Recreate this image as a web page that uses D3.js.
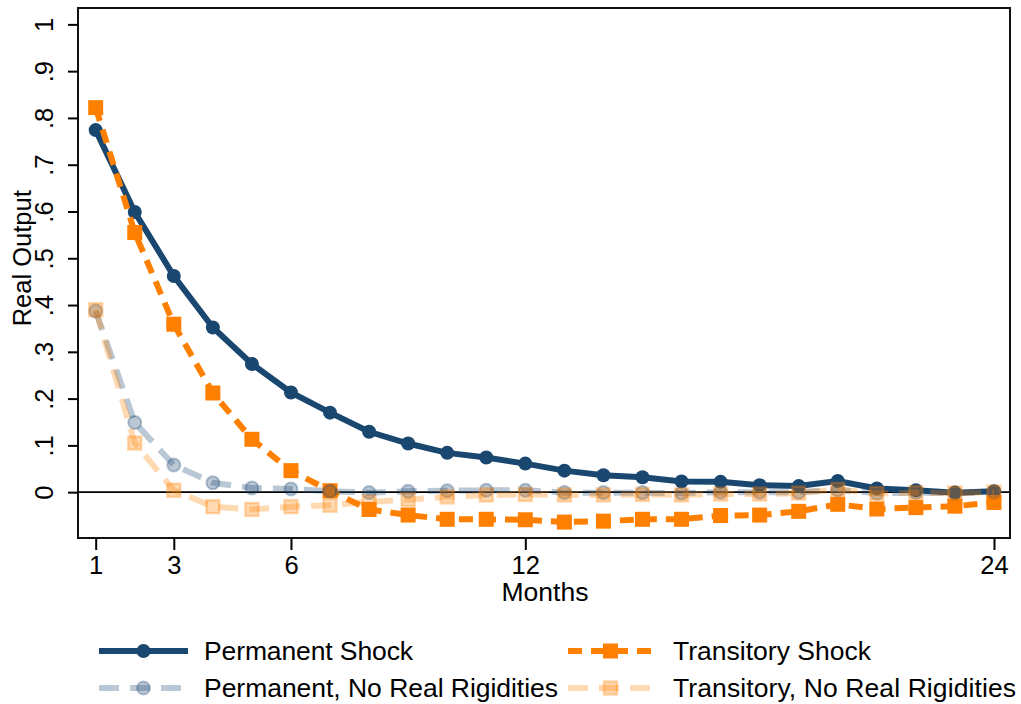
<!DOCTYPE html>
<html>
<head>
<meta charset="utf-8">
<script src="https://cdn.jsdelivr.net/npm/d3@7"></script>
<style>
  body { margin: 0; background: #fff; }
  svg { display: block; font-family: "Liberation Sans", Arial, sans-serif; }
</style>
</head>
<body>
<div id="container"></div>
<script>
// data
var months = [1, 2, 3, 4, 5, 6, 7, 8, 9, 10, 11, 12, 13, 14, 15, 16, 17, 18, 19, 20, 21, 22, 23, 24];
var permShock = [0.774, 0.599, 0.462, 0.352, 0.274, 0.213, 0.170, 0.129, 0.104, 0.084, 0.074, 0.061,
                 0.046, 0.036, 0.032, 0.023, 0.022, 0.015, 0.013, 0.024, 0.008, 0.004, -0.001, 0.002];
var transShock = [0.822, 0.555, 0.359, 0.212, 0.113, 0.046, 0.003, -0.037, -0.049, -0.058, -0.058, -0.059,
                  -0.064, -0.062, -0.058, -0.058, -0.050, -0.049, -0.041, -0.026, -0.036, -0.033, -0.030, -0.022];
var permNoRR = [0.387, 0.149, 0.058, 0.020, 0.009, 0.007, 0.002, -0.001, 0.002, 0.003, 0.004, 0.004,
                -0.001, -0.001, -0.001, -0.002, 0.000, 0.000, 0.000, 0.005, -0.002, -0.001, -0.002, 0.000];
var transNoRR = [0.390, 0.105, 0.004, -0.031, -0.037, -0.031, -0.028, -0.021, -0.016, -0.010, -0.006, -0.005,
                 -0.006, -0.006, -0.005, -0.006, -0.004, -0.004, -0.002, 0.006, -0.003, -0.001, -0.002, 0.000];

var xTicks = [1, 3, 6, 12, 24];
var yTicks = [0, 0.1, 0.2, 0.3, 0.4, 0.5, 0.6, 0.7, 0.8, 0.9, 1];
var yTickLabels = ["0", ".1", ".2", ".3", ".4", ".5", ".6", ".7", ".8", ".9", "1"];
var seriesNames = ["Permanent Shock", "Transitory Shock", "Permanent, No Real Rigidities", "Transitory, No Real Rigidities"];

var navy = "#1a476f", orange = "#ff8000";

// define margins
var margin = { top: 8, right: 11, bottom: 166, left: 78 },
    width = 1021 - margin.left - margin.right,
    height = 704 - margin.top - margin.bottom;

var svg = d3.select("#container").append("svg")
    .attr("width", 1021)
    .attr("height", 704);

var g = svg.append("g")
    .attr("transform", "translate(" + margin.left + "," + margin.top + ")");

// scales
var x = d3.scaleLinear().domain([0.547, 24.41]).range([0, width]);
var y = d3.scaleLinear().domain([-0.098, 1.035]).range([height, 0]);

// zero line
g.append("line")
    .attr("x1", 0).attr("x2", width)
    .attr("y1", y(0)).attr("y2", y(0))
    .attr("stroke", "#000").attr("stroke-width", 1.6);

var line = d3.line()
    .x(function(d, i) { return x(months[i]); })
    .y(function(d) { return y(d); });

var series = [
  { name: seriesNames[0], values: permShock, color: navy, dash: null, marker: "circle", op: 1 },
  { name: seriesNames[1], values: transShock, color: orange, dash: "14,9", marker: "square", op: 1 },
  { name: seriesNames[2], values: permNoRR, color: navy, dash: "20,11", marker: "circle", op: 0.3 },
  { name: seriesNames[3], values: transNoRR, color: orange, dash: "20,11", marker: "square", op: 0.3 }
];

function addMarker(sel, s, cx, cy) {
  if (s.marker === "circle") {
    sel.append("circle")
      .attr("cx", cx).attr("cy", cy).attr("r", s.op < 1 ? 6.5 : 7)
      .attr("fill", s.color).attr("fill-opacity", s.op)
      .attr("stroke", s.color).attr("stroke-opacity", s.op)
      .attr("stroke-width", s.op < 1 ? 2 : 0);
  } else {
    var sz = s.op < 1 ? 13 : 15;
    sel.append("rect")
      .attr("x", cx - sz / 2).attr("y", cy - sz / 2)
      .attr("width", sz).attr("height", sz)
      .attr("fill", s.color).attr("fill-opacity", s.op)
      .attr("stroke", s.color).attr("stroke-opacity", s.op)
      .attr("stroke-width", s.op < 1 ? 2.5 : 0);
  }
}

series.forEach(function(s) {
  g.append("path")
    .datum(s.values)
    .attr("fill", "none")
    .attr("stroke", s.color)
    .attr("stroke-opacity", s.op)
    .attr("stroke-width", 6)
    .attr("stroke-dasharray", s.dash)
    .attr("d", line);
  var mg = g.append("g");
  s.values.forEach(function(v, i) { addMarker(mg, s, x(months[i]), y(v)); });
});

// frame
g.append("rect")
    .attr("width", width).attr("height", height)
    .attr("fill", "none").attr("stroke", "#111").attr("stroke-width", 2);

// x axis
var xAxis = g.append("g")
    .attr("transform", "translate(0," + height + ")")
    .call(d3.axisBottom(x).tickValues(xTicks).tickSize(12).tickPadding(4).tickFormat(d3.format("d")));
xAxis.select(".domain").remove();
xAxis.selectAll("line").attr("stroke", "#000").attr("stroke-width", 2);
xAxis.selectAll("text").attr("font-size", 25.5).attr("fill", "#000")
    .attr("dy", null).attr("y", 36);

// y axis
var yAxis = g.append("g")
    .call(d3.axisLeft(y).tickValues(yTicks).tickSize(10)
      .tickFormat(function(d, i) { return yTickLabels[i]; }));
yAxis.select(".domain").remove();
yAxis.selectAll("line").attr("stroke", "#000").attr("stroke-width", 2);
yAxis.selectAll("text")
    .attr("font-size", 25.5).attr("fill", "#000")
    .attr("text-anchor", "middle")
    .attr("x", 0).attr("y", -25).attr("dy", null)
    .attr("transform", "rotate(-90)");

// axis titles
svg.append("text")
    .attr("x", 545).attr("y", 601)
    .attr("text-anchor", "middle")
    .attr("font-size", 26.5)
    .text("Months");

svg.append("text")
    .attr("transform", "translate(31," + (margin.top + (y(0) + y(1)) / 2) + ") rotate(-90)")
    .attr("text-anchor", "middle")
    .attr("font-size", 25.5)
    .text("Real Output");

// legend
var legPos = [
  { x1: 99, x2: 188, ty: 651, tx: 204, len: 209 },
  { x1: 568, x2: 653, ty: 651, tx: 673, len: 198 },
  { x1: 99, x2: 188, ty: 688, tx: 204, len: 354 },
  { x1: 568, x2: 653, ty: 688, tx: 673, len: 343 }
];
series.forEach(function(s, i) {
  var p = legPos[i];
  var lg = svg.append("g");
  lg.append("line")
    .attr("x1", p.x1).attr("x2", p.x2).attr("y1", p.ty).attr("y2", p.ty)
    .attr("stroke", s.color).attr("stroke-opacity", s.op)
    .attr("stroke-width", 6)
    .attr("stroke-dasharray", s.dash);
  addMarker(lg, s, (p.x1 + p.x2) / 2, p.ty);
  lg.append("text")
    .attr("x", p.tx).attr("y", p.ty + 9)
    .attr("font-size", 26.5)
    .attr("textLength", p.len)
    .text(s.name);
});
</script>
</body>
</html>
